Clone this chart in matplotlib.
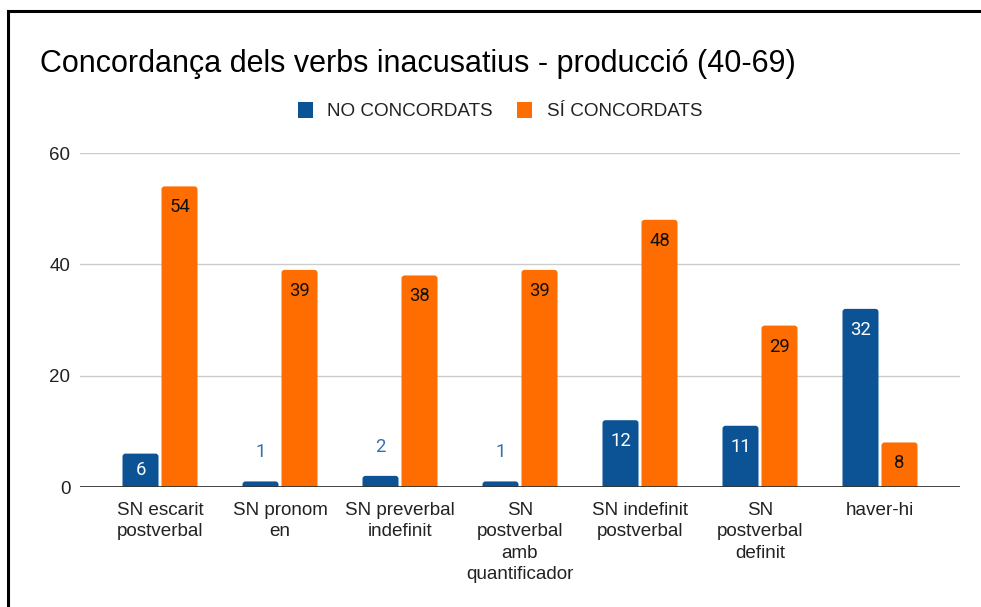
import matplotlib
matplotlib.use("Agg")
import matplotlib.pyplot as plt
from matplotlib.patches import FancyBboxPatch, Patch
from matplotlib.lines import Line2D

categories = ["SN escarit\npostverbal", "SN pronom\nen", "SN preverbal\nindefinit",
              "SN\npostverbal\namb\nquantificador", "SN indefinit\npostverbal",
              "SN\npostverbal\ndefinit", "haver-hi"]
no_concordats = [6, 1, 2, 1, 12, 11, 32]
si_concordats = [54, 39, 38, 39, 48, 29, 8]
series_names = ["NO CONCORDATS", "SÍ CONCORDATS"]
yticks = [0, 20, 40, 60]
title = "Concordança dels verbs inacusatius - producció (40-69)"

BLUE = "#0b5394"
ORANGE = "#ff6d01"
W, H = 981, 607

fig = plt.figure(figsize=(W / 100, H / 100), dpi=100)
ax = fig.add_axes([80 / W, 1 - 487 / H, 880 / W, 334 / H])
ax.set_xlim(-0.6667, 6.6667)
ax.set_ylim(0, 60)

bw = 0.3
gap = 0.0125
xunit = 120.0
yunit = 334 / 60.0
r_px = 3.0
aspect = (1 / yunit) / (1 / xunit)

def rounded_bar(x, h, color):
    ext = r_px / yunit * 2
    p = FancyBboxPatch((x - bw / 2, -ext), bw, h + ext,
                       boxstyle=f"round,pad=0,rounding_size={r_px / xunit}",
                       mutation_aspect=aspect, facecolor=color, edgecolor="none",
                       zorder=3, clip_on=True)
    ax.add_patch(p)

for i, (a, b) in enumerate(zip(no_concordats, si_concordats)):
    xa = i - bw / 2 - gap
    xb = i + bw / 2 + gap
    rounded_bar(xa, a, BLUE)
    rounded_bar(xb, b, ORANGE)
    for x, v, inside_col, above_col in [(xa, a, "white", "#3470b5"),
                                        (xb, b, "#111111", "#e06000")]:
        hpx = v * yunit
        if hpx >= 30:
            off = min(21, hpx / 2)
            ax.annotate(str(v), (x, v), xytext=(0, -off), textcoords="offset pixels",
                        ha="center", va="center", fontsize=13.3, color=inside_col,
                        family="Roboto", zorder=5)
        else:
            ax.annotate(str(v), (x, v), xytext=(0, 29), textcoords="offset pixels",
                        ha="center", va="center", fontsize=13.3, color=above_col,
                        family="Roboto", zorder=5)

ax.set_yticks(yticks)
ax.set_yticklabels([str(t) for t in yticks], fontsize=13.5, family="Liberation Sans", color="#222222")
ax.set_xticks(range(len(categories)))
ax.set_xticklabels(categories, fontsize=13.6, family="Liberation Sans", color="#222222",
                   linespacing=1.32)
ax.tick_params(axis="both", length=0)
ax.tick_params(axis="y", pad=7)
ax.tick_params(axis="x", pad=11)
for s in ax.spines.values():
    s.set_visible(False)
ax.grid(axis="y", color="#cccccc", linewidth=1.0, zorder=0)
ax.axhline(0, color="#333333", linewidth=1.3, zorder=4)
ax.set_axisbelow(True)

fig.text(40 / W, 1 - 64 / H, title, fontsize=22, family="Liberation Sans",
         va="center", ha="left", color="#000000")

handles = [Patch(facecolor=BLUE, edgecolor="none"), Patch(facecolor=ORANGE, edgecolor="none")]
leg = fig.legend(handles, series_names, loc="center", bbox_to_anchor=(500 / W, 1 - 111 / H),
                 ncol=2, frameon=False, prop={"family": "Liberation Sans", "size": 13.6},
                 handlelength=0.8, handleheight=0.9, handletextpad=0.75, columnspacing=1.3)
for t in leg.get_texts():
    t.set_color("#222222")

fig.add_artist(Line2D([8 / W, 1], [1 - 11 / H, 1 - 11 / H], color="black", linewidth=2.2,
                      transform=fig.transFigure))
fig.add_artist(Line2D([8 / W, 8 / W], [0, 1 - 11 / H], color="black", linewidth=2.2,
                      transform=fig.transFigure))

fig.savefig("out.png", dpi=100, facecolor="white")
